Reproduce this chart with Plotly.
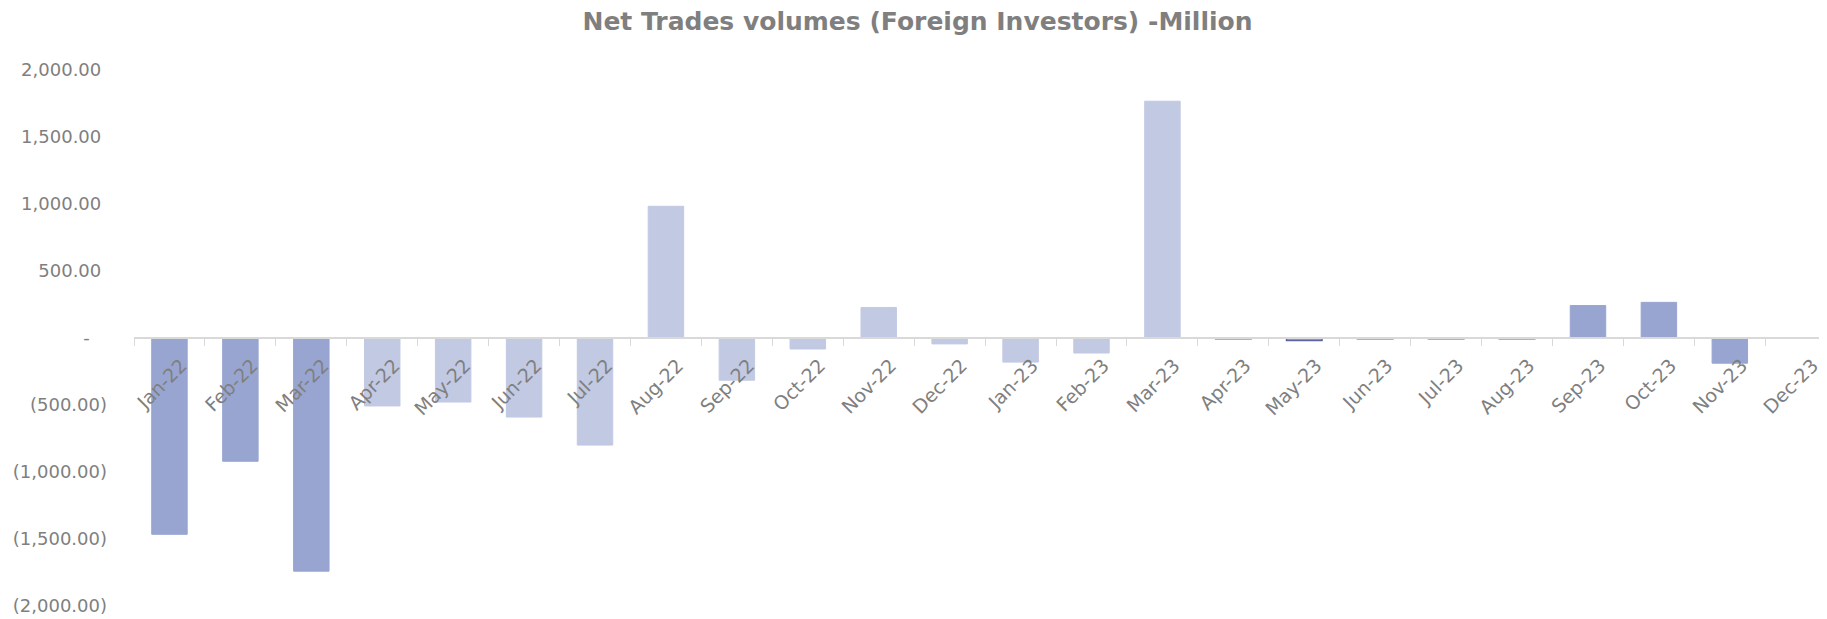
import plotly.graph_objects as go

months = ["Jan-22", "Feb-22", "Mar-22", "Apr-22", "May-22", "Jun-22",
          "Jul-22", "Aug-22", "Sep-22", "Oct-22", "Nov-22", "Dec-22",
          "Jan-23", "Feb-23", "Mar-23", "Apr-23", "May-23", "Jun-23",
          "Jul-23", "Aug-23", "Sep-23", "Oct-23", "Nov-23", "Dec-23"]
net_volume = [-1465, -920, -1740, -507, -478, -590,
              -799, 983, -315, -82, 228, -44,
              -180, -112, 1767, -6, -18, -5,
              -5, -5, 242, 266, -188, 0]

y_ticks = [2000, 1500, 1000, 500, 0, -500, -1000, -1500, -2000]
y_labels = ["2,000.00", "1,500.00", "1,000.00", "500.00", "-",
            "(500.00)", "(1,000.00)", "(1,500.00)", "(2,000.00)"]

# darker shade for the start of 2022 and the second half of 2023
dark_months = ["Jan-22", "Feb-22", "Mar-22", "Apr-23", "May-23", "Jun-23",
               "Jul-23", "Aug-23", "Sep-23", "Oct-23", "Nov-23", "Dec-23"]
thin_months = ["Apr-23", "May-23", "Jun-23", "Jul-23", "Aug-23"]

DARK = "#98A5D0"
LIGHT = "#C2C9E3"
fill = [DARK if m in dark_months else LIGHT for m in months]
edge = ["#5B64A0" if m in thin_months else c for m, c in zip(months, fill)]
edge_w = [1.5 if m in thin_months else 1 for m in months]

gray = "#7F7F7F"
pad = "\u00a0"
y_text = [t if t.startswith("(") else t + pad * (3 if t == "-" else 1)
          for t in y_labels]

fig = go.Figure(go.Bar(
    x=months, y=net_volume,
    marker=dict(color=fill, line=dict(color=edge, width=edge_w)),
))

# the page body adds an 8px offset, so the figure is sized to fit the window
fig.update_layout(
    width=1819, height=611,
    margin=dict(l=126, r=0, t=62, b=13),
    paper_bgcolor="white", plot_bgcolor="white",
    bargap=0.5,
    showlegend=False,
    font=dict(family="DejaVu Sans", color=gray),
    title=dict(text="<b>Net Trades volumes (Foreign Investors) -Million</b>",
               x=0.5, xanchor="center", y=1 - 13 / 611, yanchor="middle",
               font=dict(size=25, color=gray)),
)

fig.update_xaxes(
    type="category", range=[-0.5, 23.37],
    anchor="free", position=0.5, automargin=False,
    showline=True, linecolor="#D9D9D9", linewidth=2,
    ticks="outside", tickson="boundaries", ticklen=7,
    tickcolor="#D9D9D9", tickwidth=1,
    tickangle=-45, tickfont=dict(size=19, color=gray),
    ticklabelstandoff=8, ticklabelshift=12,
    showgrid=False, zeroline=False,
)
fig.update_yaxes(
    range=[-2000, 2000], automargin=False,
    tickvals=y_ticks, ticktext=y_text,
    tickfont=dict(size=18, color=gray),
    ticklabelstandoff=26,
    showgrid=False, zeroline=False, showline=False,
)

fig.write_html("out.html")
